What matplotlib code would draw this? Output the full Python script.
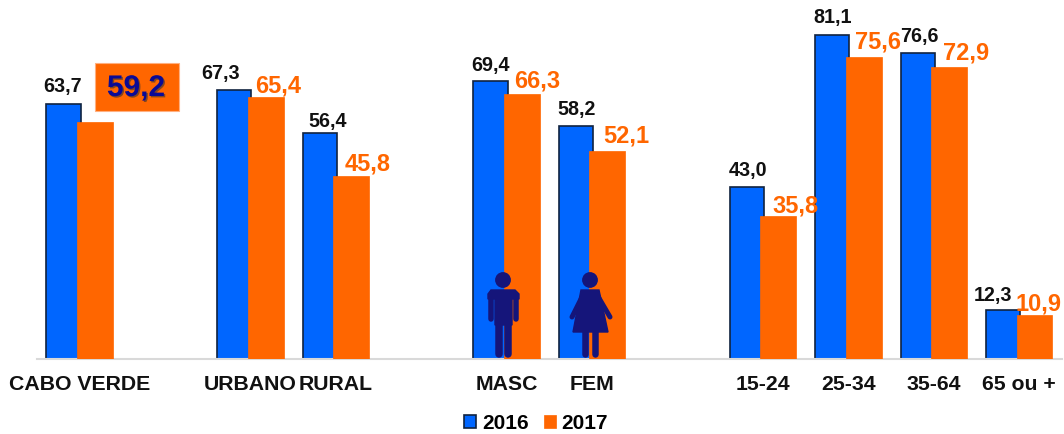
import matplotlib
matplotlib.use('Agg')
from matplotlib import pyplot as plt
from matplotlib import patheffects as pe
from matplotlib.patches import Circle, Polygon, Rectangle
from matplotlib.transforms import Affine2D

plt.rcParams['font.family'] = ['Liberation Sans', 'DejaVu Sans']
plt.rcParams['font.weight'] = 'bold'

# blank strings are the gaps between the groups
categories = ['CABO VERDE', '', 'URBANO', 'RURAL', '', 'MASC', 'FEM', '',
              '15-24', '25-34', '35-64', '65 ou +']
values_2016 = [63.7, None, 67.3, 56.4, None, 69.4, 58.2, None, 43.0, 81.1, 76.6, 12.3]
values_2017 = [59.2, None, 65.4, 45.8, None, 66.3, 52.1, None, 35.8, 75.6, 72.9, 10.9]
callout_value = 59.2

BLUE = '#0066ff'
ORANGE = '#ff6600'
NAVY = '#15157a'
W, H = 1064, 435

# label nudges in pixels, the source chart was placed by hand
nudge_2016 = [(-1, 13), None, (-14, 12), (8, 7), None, (0, 11), (1, 12), None, (1, 12), (0, 13), (2, 12), (-10, 10)]
nudge_2017 = [None, None, (12, 6), (16, 6), None, (15, 7), (19, 9), None, (17, 4), (14, 9), (17, 9), (4, 6)]


def fmt(v):
    return f'{v:.1f}'.replace('.', ',')


fig = plt.figure(figsize=(W / 100, H / 100), dpi=100)
ax = fig.add_axes([37 / W, 1 - 360 / H, 1025 / W, 360 / H])
ax.set_xlim(-0.5, len(categories) - 0.5)
ax.set_ylim(0, 90)

xs = [i for i, v in enumerate(values_2016) if v is not None]
v16 = [values_2016[i] for i in xs]
v17 = [values_2017[i] for i in xs]

b16 = ax.bar([x - 0.19 for x in xs], v16, 0.40, color=BLUE, edgecolor='#10233f',
             linewidth=1.2, label='2016', zorder=2)
b17 = ax.bar([x + 0.178 for x in xs], v17, 0.42, color=ORANGE, edgecolor=ORANGE,
             linewidth=0.5, label='2017', zorder=3)

for i, x in enumerate(xs):
    ax.annotate(fmt(v16[i]), (x - 0.19, v16[i]), xytext=nudge_2016[x], textcoords='offset pixels',
                ha='center', va='baseline', fontsize=14.2, color='#111111', zorder=5)
    if nudge_2017[x] is not None:
        ax.annotate(fmt(v17[i]), (x + 0.178, v17[i]), xytext=nudge_2017[x], textcoords='offset pixels',
                    ha='center', va='baseline', fontsize=17, color=ORANGE, zorder=5)

for s in ['top', 'right', 'left']:
    ax.spines[s].set_visible(False)
ax.spines['bottom'].set_color('#d9d9d9')
ax.spines['bottom'].set_linewidth(1.5)
ax.set_yticks([])
ax.set_xticks(xs)
ax.set_xticklabels([categories[i] for i in xs], fontsize=15.3, color='#111111')
ax.tick_params(axis='x', length=0, pad=11)

fig.legend(handles=[b16, b17], loc='center', bbox_to_anchor=(536 / W, 1 - 424 / H), ncol=2,
           frameon=False, fontsize=15, handlelength=0.58, handleheight=0.58,
           handletextpad=0.27, columnspacing=0.72, borderpad=0, borderaxespad=0)

# everything below is placed in image pixels
px = Affine2D().scale(1 / W, -1 / H).translate(0, 1) + fig.transFigure


def limb(x0, y0, x1, y1, lw):
    fig.add_artist(plt.Line2D([x0, x1], [y0, y1], transform=px, color=NAVY, lw=lw * 0.72,
                              solid_capstyle='round', zorder=6))


# callout box for the 2017 national value
fig.add_artist(Rectangle((95, 64), 84, 48, transform=px, facecolor=ORANGE, edgecolor='#ffb080',
                         linewidth=0.8, zorder=4))
fig.text(136 / W, 1 - 89 / H, fmt(callout_value), ha='center', va='center', fontsize=21.5, color='#0a0a96',
         zorder=7, path_effects=[pe.withSimplePatchShadow(offset=(1, -1), shadow_rgbFace='#333333', alpha=0.6)])

# man
fig.add_artist(Circle((503, 281), 7.2, transform=px, color=NAVY, zorder=6))
fig.add_artist(Polygon([(491, 291), (515, 291), (519, 295), (519, 300), (512, 300), (512, 326),
                        (495, 326), (495, 300), (488, 300), (488, 295)],
                       transform=px, color=NAVY, zorder=6))
limb(491, 296, 491, 320, 5.5)
limb(516, 296, 516, 320, 5.5)
limb(499, 322, 499, 355, 7.5)
limb(508, 322, 508, 355, 7.5)

# woman
fig.add_artist(Circle((590, 281), 7.2, transform=px, color=NAVY, zorder=6))
fig.add_artist(Polygon([(581, 291), (599, 291), (608, 333), (573, 333)], transform=px, color=NAVY, zorder=6))
limb(584, 294, 572, 318, 5)
limb(596, 294, 610, 318, 5)
limb(585, 332, 585, 355, 6.5)
limb(595, 332, 595, 355, 6.5)

fig.savefig('out.png', dpi=100)
